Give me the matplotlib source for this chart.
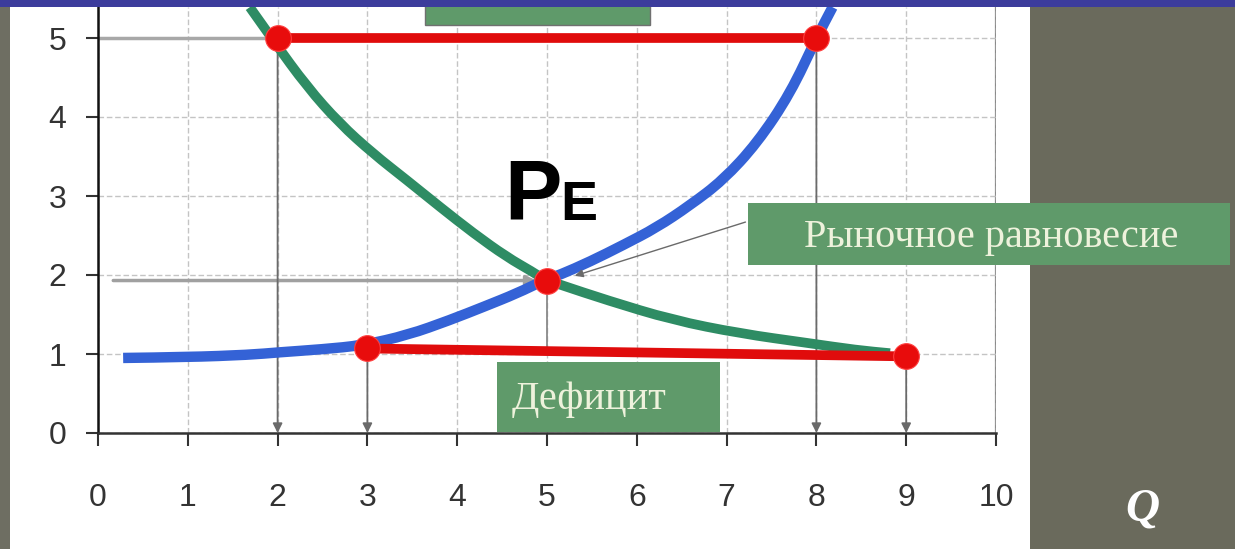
import matplotlib
matplotlib.use('Agg')
import matplotlib.pyplot as plt
import matplotlib.patches as mplpatches
from matplotlib.path import Path

# supply curve (blue)
supply_q = [0.28, 1.0, 1.69, 2.0, 2.5, 2.95, 3.45, 3.92, 4.3, 4.67, 4.96, 5.14, 5.48, 5.85,
            6.22, 6.59, 6.96, 7.34, 7.71, 8.0, 8.18]
supply_p = [0.95, 0.96, 0.99, 1.02, 1.06, 1.11, 1.24, 1.43, 1.6, 1.77, 1.93, 2.0, 2.17, 2.38,
            2.6, 2.88, 3.2, 3.67, 4.3, 5.0, 5.39]

# demand curve (green)
demand_q = [1.69, 1.95, 2.33, 2.69, 3.06, 3.44, 3.81, 4.18, 4.55, 4.84, 4.96, 5.14, 5.67,
            6.4, 7.15, 7.9, 8.45, 8.82]
demand_p = [5.39, 4.97, 4.38, 3.92, 3.54, 3.2, 2.86, 2.53, 2.23, 2.04, 1.95, 1.88, 1.68,
            1.43, 1.26, 1.14, 1.05, 1.01]

# red segments and points
surplus_q = [2, 8]
surplus_p = [5, 5]
deficit_q = [3, 9]
deficit_p = [1.07, 0.97]
eq_q = 5
eq_p = 1.93

# grey drop lines
drop_q = [2, 3, 8, 9]
drop_p = [5, 1.07, 5, 0.97]

x_ticks = [0, 1, 2, 3, 4, 5, 6, 7, 8, 9, 10]
y_ticks = [0, 1, 2, 3, 4, 5]

label_eq = 'Рыночное равновесие'
label_def = 'Дефицит'


def smooth_path(xs, ys):
    # quadratic bezier through midpoints, read points used as controls
    pts = list(zip(xs, ys))
    verts = [pts[0]]
    codes = [Path.MOVETO]
    for i in range(1, len(pts) - 1):
        mid = ((pts[i][0] + pts[i+1][0]) / 2, (pts[i][1] + pts[i+1][1]) / 2)
        verts += [pts[i], mid]
        codes += [Path.CURVE3, Path.CURVE3]
    verts.append(pts[-1])
    codes.append(Path.LINETO)
    return Path(verts, codes)


fig_w = 12.35
fig_h = 5.49
fig = plt.figure(figsize=(fig_w, fig_h), dpi=100)
fig.patch.set_facecolor('white')

# frame decorations (figure coords)
fig.patches.append(mplpatches.Rectangle((0, 0), 10/1235, 1, transform=fig.transFigure,
                                        facecolor='#6e6e62', edgecolor='none', zorder=0))
fig.patches.append(mplpatches.Rectangle((1030/1235, 0), 205/1235, 542/549, transform=fig.transFigure,
                                        facecolor='#6a6a5c', edgecolor='none', zorder=0))

ax = fig.add_axes([98/1235, 116/549, 898/1235, 426/549])
ax.set_xlim(0, 10)
ax.set_ylim(0, 426/79)
ax.set_facecolor('none')

for s in ['top', 'right']:
    ax.spines[s].set_visible(False)
ax.spines['left'].set_color('#111111')
ax.spines['bottom'].set_color('#333333')
ax.spines['left'].set_linewidth(1.8)
ax.spines['bottom'].set_linewidth(1.8)

ax.set_xticks(x_ticks)
ax.set_yticks(y_ticks)
ax.tick_params(axis='x', length=9, width=1.5, pad=27, labelsize=23, labelcolor='#333333', color='#333333')
ax.tick_params(axis='y', length=9, width=1.5, pad=14, labelsize=23, labelcolor='#333333', color='#333333')
for lab in ax.get_xticklabels() + ax.get_yticklabels():
    lab.set_family('Liberation Sans')

ax.grid(True, color='#c4c4c4', linestyle=(0, (4, 2)), linewidth=1.0, zorder=0)
ax.axvline(10, color='#8a8a8a', linewidth=1.6, zorder=1)

# grey guide lines
for q, p in zip(drop_q, drop_p):
    ax.annotate('', xy=(q, 0), xytext=(q, p),
                arrowprops=dict(arrowstyle='-|>', color='#6a6a6a', lw=1.3,
                                mutation_scale=14, shrinkA=0, shrinkB=0), zorder=4)
ax.plot([eq_q, eq_q], [eq_p, 1.05], color='#8a8a8a', linewidth=1.3, zorder=4)
ax.plot([0, surplus_q[0]], [5, 5], color='#a8a8a8', linewidth=2.5, zorder=2)
ax.annotate('', xy=(eq_q - 0.12, eq_p), xytext=(0.17, eq_p),
            arrowprops=dict(arrowstyle='-|>', color='#a0a0a0', lw=2.5,
                            mutation_scale=14, shrinkA=0, shrinkB=0), zorder=2)

# curves
demand = mplpatches.PathPatch(smooth_path(demand_q, demand_p), fill=False,
                              edgecolor='#2e8c64', linewidth=7, capstyle='butt', zorder=5)
supply = mplpatches.PathPatch(smooth_path(supply_q, supply_p), fill=False,
                              edgecolor='#3462d6', linewidth=7.5, capstyle='butt', zorder=6)
ax.add_patch(demand)
ax.add_patch(supply)

# red lines and points
ax.plot(surplus_q, surplus_p, color='#e00c0c', linewidth=7, zorder=7)
ax.plot(deficit_q, deficit_p, color='#e00c0c', linewidth=7, zorder=7)
ax.plot(surplus_q + deficit_q + [eq_q], surplus_p + deficit_p + [eq_p], linestyle='none',
        marker='o', markersize=18.5, color='#e80c0c', markeredgecolor='#ff4040',
        markeredgewidth=0.8, zorder=8)

# label boxes
box_col = '#5f9a6a'
txt_col = '#eef2dc'
fig.patches.append(mplpatches.Rectangle((425/1235, (549-25)/549), 225/1235, 25/549,
                                        transform=fig.transFigure, facecolor=box_col,
                                        edgecolor='#707070', linewidth=1.0, zorder=1))
fig.patches.append(mplpatches.Rectangle((748/1235, (549-265)/549), 482/1235, 62/549,
                                        transform=fig.transFigure, facecolor=box_col,
                                        edgecolor='none', zorder=1))
fig.patches.append(mplpatches.Rectangle((497/1235, (549-432)/549), 223/1235, 70/549,
                                        transform=fig.transFigure, facecolor=box_col,
                                        edgecolor='none', zorder=1))
fig.text(991/1235, (549-238)/549, label_eq, family='Liberation Serif', fontsize=29,
         color=txt_col, ha='center', va='center', zorder=3)
fig.text(589/1235, (549-399)/549, label_def, family='Liberation Serif', fontsize=29,
         color=txt_col, ha='center', va='center', zorder=3)

# top band
fig.patches.append(mplpatches.Rectangle((0, 542/549), 1, 7/549, transform=fig.transFigure,
                                        facecolor='#3c3c9c', edgecolor='none', zorder=5))

# pointer to equilibrium
ax.annotate('', xy=(5.31, 1.99), xytext=(7.21, 2.67),
            arrowprops=dict(arrowstyle='-|>', color='#6a6a6a', lw=1.0,
                            mutation_scale=12, shrinkA=0, shrinkB=0), zorder=9)

ax.text(4.52, 2.7, 'P', family='Liberation Sans', fontweight='bold', fontsize=62,
        color='black', ha='left', va='baseline', zorder=9)
ax.text(5.15, 2.7, 'E', family='Liberation Sans', fontweight='bold', fontsize=40,
        color='black', ha='left', va='baseline', zorder=9)

fig.text(1142/1235, (549-510)/549, 'Q', family='Liberation Serif', fontweight='bold',
         style='italic', fontsize=34, color='white', ha='center', va='center')

plt.savefig('out.png', dpi=100)
